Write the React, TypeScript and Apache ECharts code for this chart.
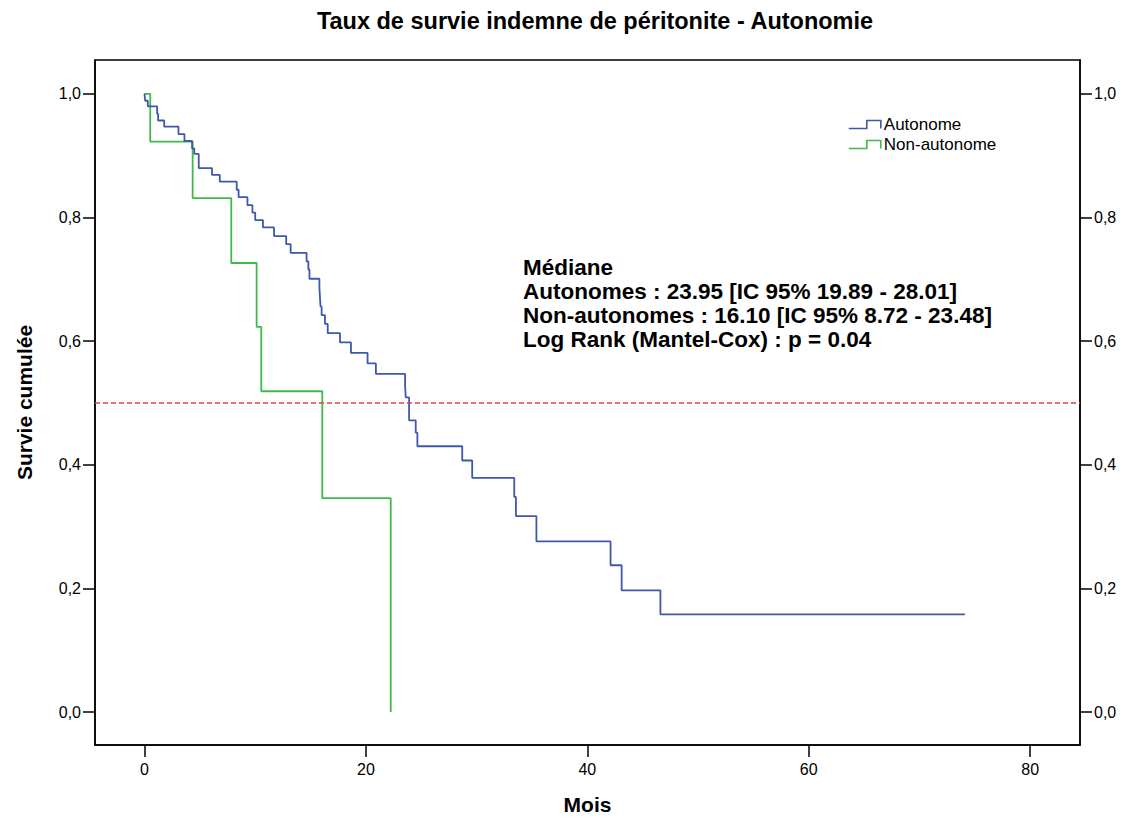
import React, { useEffect, useRef } from "react";
import * as echarts from "echarts";

// Kaplan-Meier estimates
const autonomeTimes = [
  0, 0.06, 0.3, 1.14, 1.23, 1.78, 3.07, 3.61, 4.3, 4.5, 4.9, 6.1, 6.8, 8.33, 8.5,
  9.3, 9.75, 10.0, 10.7, 11.7, 12.8, 13.2, 14.64, 14.8, 14.9, 15.8, 15.85, 15.9,
  16.0, 16.3, 16.55, 17.66, 18.65, 20.15, 20.9, 23.54, 23.6, 23.9, 24.5, 24.65,
  28.7, 29.6, 33.4, 33.55, 35.4, 42.1, 43.1, 46.6, 74.1,
];
const autonomeSurvival = [
  1.0, 0.989, 0.98, 0.968, 0.957, 0.947, 0.935, 0.924, 0.912, 0.903, 0.88, 0.869,
  0.858, 0.845, 0.833, 0.82, 0.808, 0.796, 0.784, 0.77, 0.757, 0.743, 0.729, 0.716,
  0.701, 0.686, 0.671, 0.656, 0.642, 0.628, 0.613, 0.598, 0.581, 0.564, 0.547,
  0.527, 0.509, 0.472, 0.452, 0.43, 0.407, 0.379, 0.348, 0.317, 0.276, 0.2375,
  0.197, 0.158, 0.158,
];
const nonAutonomeTimes = [0, 0.52, 4.35, 7.84, 10.13, 10.55, 16.06, 22.24];
const nonAutonomeSurvival = [1.0, 0.923, 0.8315, 0.7265, 0.623, 0.519, 0.346, 0.0];

const seriesNames = ["Autonome", "Non-autonome"];
const xTicks = [0, 20, 40, 60, 80];
const yTicks = [0, 0.2, 0.4, 0.6, 0.8, 1.0];
const medianLevel = 0.5;
const titleText = "Taux de survie indemne de péritonite - Autonomie";
const xName = "Mois";
const yName = "Survie cumulée";
const annotationLines = [
  "Médiane",
  "Autonomes : 23.95 [IC 95% 19.89 - 28.01]",
  "Non-autonomes : 16.10 [IC 95% 8.72 - 23.48]",
  "Log Rank (Mantel-Cox) : p = 0.04",
];

const BLUE = "#3e58ad";
const GREEN = "#40b94a";
const RED = "#e8413f";
const FONT = "'Liberation Sans', Arial, Helvetica, sans-serif";

const stepIcon = "path://M0,8 L18,8 L18,0 L32,0 L32,8";

export default function App() {
  const ref = useRef<HTMLDivElement>(null);

  useEffect(() => {
    document.body.style.margin = "0";
    if (!ref.current) return;
    const chart = echarts.init(ref.current, undefined, { renderer: "svg" });

    const fmt = (v: number) => v.toFixed(1).replace(".", ",");
    const yAxisBase = (position: "left" | "right") => ({
      type: "value" as const,
      position,
      min: -0.0533,
      max: 1.0549,
      splitLine: { show: false },
      axisLine: { show: true, onZero: false, lineStyle: { color: "#000", width: 1.5 } },
      axisTick: {
        show: true,
        length: 12,
        customValues: yTicks,
        lineStyle: { color: "#000", width: 1.5 },
      },
      axisLabel: {
        show: true,
        customValues: yTicks,
        formatter: fmt,
        color: "#000",
        fontSize: 16,
        fontFamily: FONT,
        margin: 14,
      },
    });

    chart.setOption({
      animation: false,
      backgroundColor: "#fff",
      textStyle: { fontFamily: FONT },
      title: {
        text: titleText,
        left: 595,
        top: 9,
        padding: 0,
        textAlign: "center",
        textStyle: { fontSize: 23.5, fontWeight: "bold", color: "#000", fontFamily: FONT },
      },
      grid: {
        left: 95,
        right: 48,
        top: 60,
        bottom: 74,
        show: true,
        borderColor: "#000",
        borderWidth: 1.5,
        backgroundColor: "transparent",
      },
      legend: {
        orient: "vertical",
        left: 848,
        top: 116,
        padding: 0,
        itemWidth: 32,
        itemHeight: 8,
        itemGap: 3,
        icon: stepIcon,
        textStyle: { fontSize: 17, color: "#000", fontFamily: FONT, padding: [0, 0, 0, -2] },
        data: [
          {
            name: seriesNames[0],
            itemStyle: { color: "rgba(0,0,0,0)", borderColor: BLUE, borderWidth: 1.6 },
          },
          {
            name: seriesNames[1],
            itemStyle: { color: "rgba(0,0,0,0)", borderColor: GREEN, borderWidth: 1.6 },
          },
        ],
      },
      xAxis: {
        type: "value",
        min: -4.47,
        max: 84.5,
        splitLine: { show: false },
        axisLine: { show: true, onZero: false, lineStyle: { color: "#000", width: 1.5 } },
        axisTick: {
          show: true,
          length: 12,
          customValues: xTicks,
          lineStyle: { color: "#000", width: 1.5 },
        },
        axisLabel: {
          show: true,
          customValues: xTicks,
          color: "#000",
          fontSize: 16,
          fontFamily: FONT,
          margin: 16,
        },
        name: xName,
        nameLocation: "middle",
        nameGap: 49,
        nameTextStyle: { fontSize: 21, fontWeight: "bold", color: "#000", fontFamily: FONT },
      },
      yAxis: [
        {
          ...yAxisBase("left"),
          name: yName,
          nameLocation: "middle",
          nameGap: 60,
          nameTextStyle: { fontSize: 21, fontWeight: "bold", color: "#000", fontFamily: FONT },
        },
        yAxisBase("right"),
      ],
      series: [
        {
          name: seriesNames[0],
          type: "line",
          step: "end",
          symbol: "none",
          showSymbol: false,
          color: BLUE,
          lineStyle: { color: BLUE, width: 1.8 },
          data: autonomeTimes.map((t, i) => [t, autonomeSurvival[i]]),
          markLine: {
            silent: true,
            symbol: ["none", "none"],
            label: { show: false },
            lineStyle: { color: RED, type: [5, 3], width: 1.5 },
            data: [{ yAxis: medianLevel }],
          },
          z: 3,
        },
        {
          name: seriesNames[1],
          type: "line",
          step: "end",
          symbol: "none",
          showSymbol: false,
          color: GREEN,
          lineStyle: { color: GREEN, width: 1.8 },
          data: nonAutonomeTimes.map((t, i) => [t, nonAutonomeSurvival[i]]),
          z: 2,
        },
      ],
      graphic: [
        {
          type: "text",
          left: 523,
          top: 255,
          style: {
            text: annotationLines.join("\n"),
            fontSize: 22.5,
            fontWeight: "bold",
            lineHeight: 24,
            fill: "#000",
            fontFamily: FONT,
          },
        },
      ],
    });

    return () => chart.dispose();
  }, []);

  return <div ref={ref} style={{ width: 1128, height: 820 }} />;
}
